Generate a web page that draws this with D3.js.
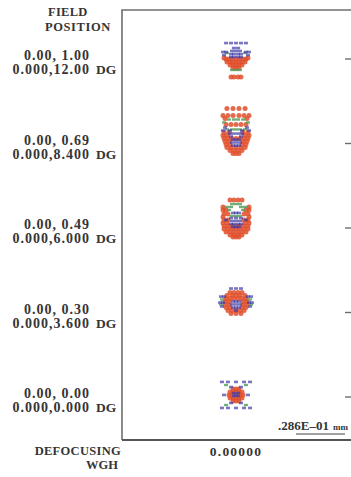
<!DOCTYPE html>
<html>
<head>
<meta charset="utf-8">
<script src="https://cdn.jsdelivr.net/npm/d3@7"></script>
<style>
  html, body { margin: 0; padding: 0; background: #fff; }
  svg { display: block; }
  text { font-family: "Liberation Serif", "Times New Roman", serif; font-weight: bold; fill: #353535; }
</style>
</head>
<body>
<svg id="chart" width="351" height="477"></svg>
<script>
// Field definitions (relative field, object angle in degrees)
const fieldRel = ["0.00, 1.00", "0.00, 0.69", "0.00, 0.49", "0.00, 0.30", "0.00, 0.00"];
const fieldAngle = ["0.000,12.00", "0.000,8.400", "0.000,6.000", "0.000,3.600", "0.000,0.000"];
const defocusValues = ["0.00000"];
const scaleBarMicrons = 28.6;            // .286E-01 mm
const scaleBarLabel = ".286E\u201301";

// Ray intercepts relative to the chief ray, in microns (x right, y up), per field
const spotsRed = [
  [[-7.0,0.6],[-5.8,0],[-4.1,0],[-2.3,0],[0,0],[2.3,0],[4.1,0],[5.8,0],[7.0,0.6],
   [-5.3,-1.75],[-3.5,-1.75],[-1.75,-1.75],[0,-1.75],[1.75,-1.75],[3.5,-1.75],[5.3,-1.75],
   [-3.5,-3.5],[-1.75,-3.5],[0,-3.5],[1.75,-3.5],[3.5,-3.5],
   [-1.75,-5.3],[0,-5.3],[1.75,-5.3],
   [-2.9,-10.5],[-1.2,-10.5],[1.2,-10.5],[2.9,-10.5]],
  [[-5.3,20.4],[-1.75,20.4],[1.75,20.4],[5.3,20.4],
   [-7.6,16.4],[-4.7,16.4],[-1.75,16.4],[1.75,16.4],[4.7,16.4],[7.6,16.4],
   [-6.4,14.6],[6.4,14.6],
   [-5.8,11.1],[-2.9,11.1],[0,11.1],[2.9,11.1],[5.8,11.1],
   [-7.0,6.4],[-4.1,6.4],[4.1,6.4],[7.0,6.4],
   [-7.6,4.7],[-5.3,4.7],[5.3,4.7],[7.6,4.7],
   [-7.0,2.9],[-4.7,2.9],[-2.3,2.9],[0,2.9],[2.3,2.9],[4.7,2.9],[7.0,2.9],
   [-6.4,1.2],[-4.1,1.2],[4.1,1.2],[6.4,1.2],
   [-5.8,-0.6],[-3.5,-0.6],[3.5,-0.6],[5.8,-0.6],
   [-5.3,-2.3],[-2.9,-2.3],[0,-2.3],[2.9,-2.3],[5.3,-2.3],
   [-3.5,-4.1],[-1.2,-4.1],[1.2,-4.1],[3.5,-4.1],
   [-1.75,-5.8],[0,-5.8],[1.75,-5.8]],
  [[-3.5,16.4],[-1.2,16.4],[1.2,16.4],[3.5,16.4],
   [-7.6,12.3],[7.6,12.3],
   [-7.6,10.5],[-5.8,10.5],[5.8,10.5],[7.6,10.5],
   [-7.0,8.2],[-4.7,8.2],[4.7,8.2],[7.0,8.2],
   [-7.6,6.4],[7.6,6.4],
   [-7.0,4.7],[-4.7,4.7],[4.7,4.7],[7.0,4.7],
   [-7.6,2.9],[-5.3,2.9],[5.3,2.9],[7.6,2.9],
   [-7.0,1.2],[-4.7,1.2],[-2.3,1.2],[0,1.2],[2.3,1.2],[4.7,1.2],[7.0,1.2],
   [-7.0,-0.6],[-4.7,-0.6],[-2.3,-0.6],[0,-0.6],[2.3,-0.6],[4.7,-0.6],[7.0,-0.6],
   [-5.8,-2.3],[-3.5,-2.3],[-1.2,-2.3],[1.2,-2.3],[3.5,-2.3],[5.8,-2.3],
   [-3.5,-4.1],[-1.2,-4.1],[1.2,-4.1],[3.5,-4.1],
   [-1.75,-5.3],[0,-5.3],[1.75,-5.3]],
  [[-3.5,11.7],[-1.2,11.7],[1.2,11.7],[3.5,11.7],
   [-5.3,9.9],[-2.3,9.9],[0,9.9],[2.3,9.9],[5.3,9.9],
   [-5.8,8.2],[-3.5,8.2],[-1.2,8.2],[1.2,8.2],[3.5,8.2],[5.8,8.2],
   [-6.4,6.4],[-4.1,6.4],[4.1,6.4],[6.4,6.4],
   [-6.4,4.7],[-4.1,4.7],[4.1,4.7],[6.4,4.7],
   [-5.8,2.9],[-3.5,2.9],[3.5,2.9],[5.8,2.9],
   [-4.7,1.2],[-2.3,1.2],[0,1.2],[2.3,1.2],[4.7,1.2],
   [-2.9,-0.6],[0,-0.6],[2.9,-0.6]],
  [[-1.75,4.7],[0,4.7],[1.75,4.7],
   [-3.5,2.9],[-1.75,2.9],[0,2.9],[1.75,2.9],[3.5,2.9],
   [-4.1,1.2],[-2.3,1.2],[2.3,1.2],[4.1,1.2],
   [-3.5,-0.6],[-1.75,-0.6],[0,-0.6],[1.75,-0.6],[3.5,-0.6],
   [-1.75,-2.3],[0,-2.3],[1.75,-2.3]]
];

const spotsGreen = [
  [[-5.3,3.5],[5.3,3.5],[-2.3,-6.4],[0,-6.4],[2.3,-6.4]],
  [[-4.1,14.0],[-1.2,14.0],[1.2,14.0],[4.1,14.0],[-7.0,12.3],[7.0,12.3],
   [-5.3,8.2],[-2.3,8.2],[0,8.2],[2.3,8.2],[5.3,8.2]],
  [[-2.3,14.0],[0,14.0],[2.3,14.0],[-5.3,12.3],[-2.9,12.3],[2.9,12.3],[5.3,12.3],
   [-4.1,10.5],[4.1,10.5],[-2.3,7.0],[0,7.0],[2.3,7.0]],
  [[-8.2,7.6],[8.2,7.6],[-8.8,4.7],[8.8,4.7]],
  [[-5.8,7.0],[5.8,7.0],[-5.8,-4.7],[5.8,-4.7]]
];

const spotsBlue = [
  [[-5.8,9.3],[-2.9,9.3],[0,9.3],[2.9,9.3],[5.8,9.3],
   [-7.6,4.1],[-5.8,4.1],[5.8,4.1],[7.6,4.1],[-7.0,2.3],[7.0,2.3],
   [-1.2,6.4],[1.2,6.4],[-2.3,4.7],[0,4.7],[2.3,4.7],
   [-2.9,2.9],[-1.2,2.9],[1.2,2.9],[2.9,2.9],
   [-2.9,1.2],[-1.2,1.2],[1.2,1.2],[2.9,1.2]],
  [[-6.4,9.3],[6.4,9.3],[-7.6,7.6],[-3.5,7.6],[3.5,7.6],[7.6,7.6],
   [-3.5,5.8],[-1.2,5.8],[1.2,5.8],[3.5,5.8],
   [-2.9,4.1],[2.9,4.1],
   [-1.75,2.3],[0,2.3],[1.75,2.3],
   [-2.3,0.6],[0,0.6],[2.3,0.6],
   [-1.75,-1.2],[0,-1.2],[1.75,-1.2]],
  [[-1.75,8.8],[0,8.8],[1.75,8.8],[-5.8,4.7],[5.8,4.7],
   [-2.9,5.8],[0,5.8],[2.9,5.8],
   [-2.3,4.1],[0,4.1],[2.3,4.1],
   [-2.9,2.3],[-1.2,2.3],[1.2,2.3],[2.9,2.3],
   [-1.75,0.6],[0,0.6],[1.75,0.6]],
  [[-2.9,14.0],[0,14.0],[2.9,14.0],
   [-8.8,9.3],[-7.0,9.3],[7.0,9.3],[8.8,9.3],
   [-9.3,5.8],[-7.6,5.8],[7.6,5.8],[9.3,5.8],
   [-8.2,3.5],[8.2,3.5],
   [-1.75,6.4],[0,6.4],[1.75,6.4],
   [-2.3,4.7],[0,4.7],[2.3,4.7],
   [-1.75,2.9],[0,2.9],[1.75,2.9],[0,1.2]],
  [[-1.2,2.3],[1.2,2.3],[0,1.2],[-1.2,0.6],[1.2,0.6],
   [-8.2,8.8],[-4.7,8.8],[0,8.8],[4.7,8.8],[8.2,8.8],
   [-2.9,5.8],[2.9,5.8],
   [-7.0,1.2],[7.0,1.2],
   [-2.9,-3.5],[2.9,-3.5],
   [-8.2,-6.4],[-4.7,-6.4],[0,-6.4],[4.7,-6.4],[8.2,-6.4]]
];

const svg = d3.select("#chart");

// Plot frame
const frame = { left: 122, right: 351, top: 10, bottom: 440 };
const columnX = 236;                      // centre of the single defocus column
const pxPerMicron = 49 / scaleBarMicrons; // spot magnification

// One row per field
const rowY = d3.scalePoint().domain(d3.range(fieldRel.length)).range([59, 397]);

const lineColor = "#6d6d6d";
svg.append("path")
  .attr("d", `M${frame.left},${frame.bottom}V${frame.top}H${frame.right}`)
  .attr("fill", "none").attr("stroke", lineColor).attr("stroke-width", 1.6);
svg.append("line")
  .attr("x1", frame.left).attr("x2", frame.right)
  .attr("y1", frame.bottom).attr("y2", frame.bottom)
  .attr("stroke", "#555").attr("stroke-width", 1.8);

// Row ticks on the right edge
svg.append("g").selectAll("line").data(rowY.domain()).join("line")
  .attr("x1", 345).attr("x2", 351)
  .attr("y1", d => rowY(d)).attr("y2", d => rowY(d))
  .attr("stroke", lineColor).attr("stroke-width", 1.4);

// Headings
svg.append("text").attr("x", 48).attr("y", 16).attr("font-size", 12.5).attr("letter-spacing", 0.3).text("FIELD");
svg.append("text").attr("x", 45).attr("y", 31).attr("font-size", 12.5).attr("letter-spacing", 0.6).text("POSITION");

// Field labels
const labels = svg.append("g").selectAll("g").data(rowY.domain()).join("g");
labels.append("text").attr("x", 90).attr("y", d => rowY(d) + 1)
  .attr("text-anchor", "end").attr("font-size", 14).attr("letter-spacing", 1)
  .text(d => fieldRel[d]);
labels.append("text").attr("x", 90).attr("y", d => rowY(d) + 15)
  .attr("text-anchor", "end").attr("font-size", 14).attr("letter-spacing", 1)
  .text(d => fieldAngle[d]);
labels.append("text").attr("x", 96).attr("y", d => rowY(d) + 15)
  .attr("font-size", 13.5).text("DG");

// Spot diagrams
const xSpot = d3.scaleLinear().domain([-20, 20]).range([columnX - 20 * pxPerMicron, columnX + 20 * pxPerMicron]);
const ySpot = i => d3.scaleLinear().domain([-20, 20]).range([rowY(i) + 20 * pxPerMicron, rowY(i) - 20 * pxPerMicron]);

const spotLayer = svg.append("g");
rowY.domain().forEach(i => {
  const ys = ySpot(i);
  spotLayer.append("g").selectAll("circle").data(spotsRed[i]).join("circle")
    .attr("cx", d => xSpot(d[0])).attr("cy", d => ys(d[1])).attr("r", 2.5)
    .attr("fill", "#e0502c").attr("fill-opacity", 0.85);
  spotLayer.append("g").selectAll("rect").data(spotsGreen[i]).join("rect")
    .attr("x", d => xSpot(d[0]) - 2).attr("y", d => ys(d[1]) - 1.2)
    .attr("width", 4).attr("height", 2.4)
    .attr("fill", "#4f9a55").attr("fill-opacity", 0.8);
  spotLayer.append("g").selectAll("rect").data(spotsBlue[i]).join("rect")
    .attr("x", d => xSpot(d[0]) - 2).attr("y", d => ys(d[1]) - 1.3)
    .attr("width", 4).attr("height", 2.6)
    .attr("fill", "#3e3aa6").attr("fill-opacity", 0.7);
});

// Scale bar
const barScale = d3.scaleLinear().domain([0, scaleBarMicrons]).range([0, 49]);
svg.append("text").attr("x", 329).attr("y", 430).attr("text-anchor", "end")
  .attr("font-size", 13).text(scaleBarLabel);
svg.append("text").attr("x", 333).attr("y", 430).attr("font-size", 9).text("mm");
svg.append("line")
  .attr("x1", 345 - barScale(scaleBarMicrons)).attr("x2", 345)
  .attr("y1", 434).attr("y2", 434)
  .attr("stroke", "#444").attr("stroke-width", 1.2);

// Defocus axis
svg.append("text").attr("x", columnX).attr("y", 456).attr("text-anchor", "middle")
  .attr("font-size", 13.5).attr("letter-spacing", 1.2).text(defocusValues[0]);
svg.append("text").attr("x", 121).attr("y", 455).attr("text-anchor", "end")
  .attr("font-size", 12.5).attr("letter-spacing", 0.3).text("DEFOCUSING");
svg.append("text").attr("x", 118).attr("y", 469).attr("text-anchor", "end")
  .attr("font-size", 12.5).text("WGH");
</script>
</body>
</html>
